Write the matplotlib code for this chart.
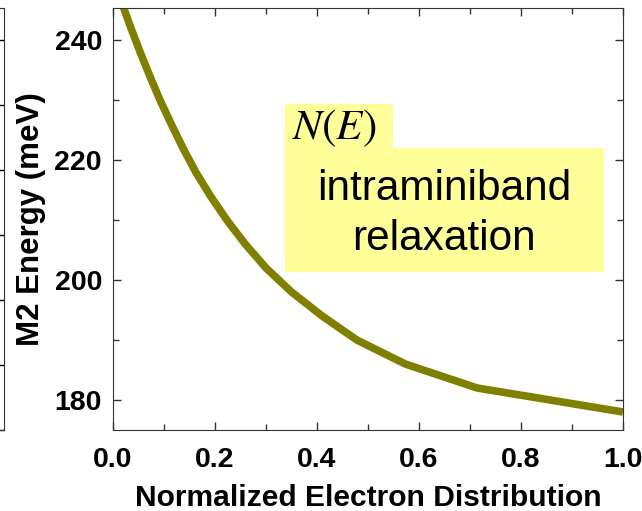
import matplotlib
matplotlib.use("Agg")
import matplotlib.pyplot as plt
from matplotlib.patches import Rectangle
from matplotlib.ticker import MultipleLocator

plt.rcParams['font.family'] = ['Liberation Sans', 'DejaVu Sans']
plt.rcParams['mathtext.fontset'] = 'stix'

# M2 energy (meV) against normalized electron distribution
energy = [251, 246, 242, 238, 234, 230, 226, 222, 218, 214,
          210, 206, 202, 198, 194, 190, 186, 182, 178]
distribution = [0.0, 0.018, 0.035, 0.053, 0.072, 0.092, 0.114, 0.137, 0.162, 0.191,
                0.223, 0.259, 0.300, 0.350, 0.410, 0.478, 0.573, 0.714, 1.0]

x_ticks = [0.0, 0.2, 0.4, 0.6, 0.8, 1.0]
y_ticks = [180, 200, 220, 240]

fig = plt.figure(figsize=(6.42, 5.11), dpi=100)

# neighbouring panel, only its right edge is visible
axl = fig.add_axes([-0.1, 0.1585, 0.1062, 0.8258])
axl.set_xlim(0, 1)
axl.set_ylim(0, 6.49)
axl.yaxis.set_major_locator(MultipleLocator(1))
axl.tick_params(axis='y', which='both', direction='in', length=5, width=1,
                left=False, right=True, labelleft=False, labelright=False)
axl.tick_params(axis='x', bottom=False, labelbottom=False)
for s in axl.spines.values():
    s.set_color('#333333')

ax = fig.add_axes([0.176, 0.1585, 0.7944, 0.8258])
ax.plot(distribution, energy, color='#808000', lw=5.5, solid_capstyle='butt',
        solid_joinstyle='round')
ax.set_xlim(0, 1)
ax.set_ylim(175, 245.3)
ax.set_xticks(x_ticks)
ax.set_yticks(y_ticks)
ax.xaxis.set_minor_locator(MultipleLocator(0.1))
ax.yaxis.set_minor_locator(MultipleLocator(10))
ax.xaxis.set_major_formatter(lambda v, p: f"{v:.1f}")
ax.tick_params(which='both', direction='in', top=True, right=True, width=1, colors='#333333',
               labelcolor='black')
ax.tick_params(which='major', length=6, labelsize=20.5, pad=8)
ax.tick_params(axis='x', which='major', pad=12)
ax.tick_params(which='minor', length=4)
for lab in ax.get_xticklabels() + ax.get_yticklabels():
    lab.set_fontweight('bold')
for s in ax.spines.values():
    s.set_color('#333333')
ax.set_xlabel('Normalized Electron Distribution', fontsize=21.6, fontweight='bold', labelpad=8)
ax.set_ylabel('M2 Energy (meV)', fontsize=22.5, fontweight='bold', labelpad=6)

# annotation boxes
fig.patches.append(Rectangle((0.444, 0.7065), 0.168, 0.09, transform=fig.transFigure,
                             facecolor='#ffff99', edgecolor='none', zorder=3))
fig.patches.append(Rectangle((0.444, 0.4677), 0.497, 0.2427, transform=fig.transFigure,
                             facecolor='#ffff99', edgecolor='none', zorder=3))
fig.text(0.455, 0.749, r'$N(E)$', fontsize=31, ha='left', va='center', zorder=4)
fig.text(0.692, 0.6086, 'intraminiband', fontsize=30.5, ha='center', va='baseline', zorder=4)
fig.text(0.692, 0.5108, 'relaxation', fontsize=30.5, ha='center', va='baseline', zorder=4)

fig.savefig('out.png', dpi=100)
